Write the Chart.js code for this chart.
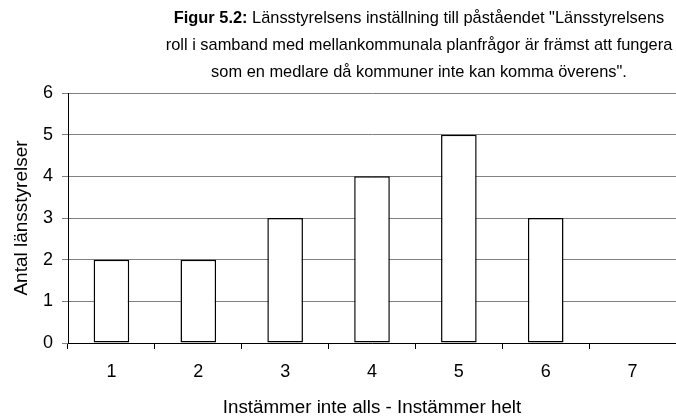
<!DOCTYPE html>
<html>
<head>
<meta charset="utf-8">
<script src="https://cdn.jsdelivr.net/npm/chart.js@4.4.1/dist/chart.umd.min.js"></script>
<style>
  html, body { margin: 0; padding: 0; background: #fff; }
  #wrap { width: 676px; height: 417px; }
</style>
</head>
<body>
<div id="wrap"><canvas id="BarChart" width="676" height="417"></canvas></div>
<script>
const categories = ["1", "2", "3", "4", "5", "6", "7"]
const values = [2, 2, 3, 4, 5, 3, 0]
const yTicks = [0, 1, 2, 3, 4, 5, 6]
const titleBold = "Figur 5.2:"
const titleLines = [
	" Länsstyrelsens inställning till påståendet \"Länsstyrelsens",
	"roll i samband med mellankommunala planfrågor är främst att fungera",
	"som en medlare då kommuner inte kan komma överens\".",
]
const xTitle = "Instämmer inte alls - Instämmer helt"
const yTitle = "Antal länsstyrelser"

const FONT = "'Liberation Sans', Arial, sans-serif"

// title with a bold prefix on the first line
const titlePlugin = {
	id: "mixedTitle",
	afterDraw(chart) {
		const ctx = chart.ctx
		const cx = 419
		const ys = [18, 45, 72]
		ctx.save()
		ctx.fillStyle = "#000"
		ctx.textBaseline = "middle"
		ctx.textAlign = "left"
		const bold = "bold 16.4px " + FONT
		const normal = "16.4px " + FONT
		ctx.font = bold
		const wb = ctx.measureText(titleBold).width
		ctx.font = normal
		const w1 = ctx.measureText(titleLines[0]).width
		let x = cx - (wb + w1) / 2
		ctx.font = bold
		ctx.fillText(titleBold, x, ys[0])
		ctx.font = normal
		ctx.fillText(titleLines[0], x + wb, ys[0])
		ctx.textAlign = "center"
		ctx.fillText(titleLines[1], cx, ys[1])
		ctx.fillText(titleLines[2], cx, ys[2])
		ctx.restore()
	},
}

const ctx = document.getElementById("BarChart").getContext("2d")
new Chart(ctx, {
	type: "bar",
	data: {
		labels: categories,
		datasets: [
			{
				data: values,
				backgroundColor: "#ffffff",
				borderColor: "#000000",
				borderWidth: 1.5,
				borderSkipped: false,
				categoryPercentage: 1,
				barPercentage: 0.41,
			},
		],
	},
	options: {
		responsive: false,
		animation: false,
		devicePixelRatio: 1,
		layout: { padding: { top: 93, right: 0, left: 0, bottom: 0 } },
		plugins: {
			legend: { display: false },
			tooltip: { enabled: false },
			title: { display: false },
		},
		scales: {
			x: {
				grid: {
					drawOnChartArea: false,
					drawTicks: true,
					tickLength: 6,
					color: "#000",
				},
				border: { color: "#000", width: 1 },
				ticks: {
					color: "#000",
					font: { family: FONT, size: 18 },
					padding: 12,
				},
				title: {
					display: true,
					text: xTitle,
					color: "#000",
					font: { family: FONT, size: 18.8 },
					padding: { top: 0, bottom: -2 },
				},
				afterFit(scale) {
					scale.height = 74
				},
			},
			y: {
				min: 0,
				max: 6,
				afterBuildTicks(scale) {
					scale.ticks = yTicks.map((v) => ({ value: v }))
				},
				grid: {
					color: "#808080",
					lineWidth: 1,
					tickLength: 6,
				},
				border: { color: "#000", width: 1 },
				ticks: {
					color: "#000",
					font: { family: FONT, size: 18 },
					padding: 9,
				},
				title: {
					display: true,
					text: yTitle,
					color: "#000",
					font: { family: FONT, size: 19 },
					padding: { top: 10, bottom: 0 },
				},
				afterFit(scale) {
					scale.width = 68
				},
			},
		},
	},
	plugins: [titlePlugin],
})
</script>
</body>
</html>
